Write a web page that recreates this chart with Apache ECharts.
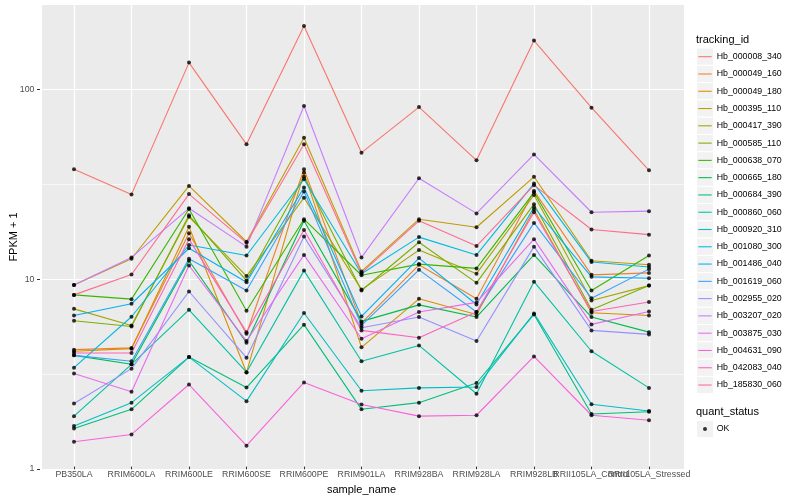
<!DOCTYPE html>
<html>
<head>
<meta charset="utf-8">
<script src="https://cdn.jsdelivr.net/npm/echarts@6/dist/echarts.min.js"></script>
<style>html,body{margin:0;padding:0;background:#fff}#c{width:800px;height:500px}</style>
</head>
<body>
<div id="c"></div>
<script>
const categories = ['PB350LA','RRIM600LA','RRIM600LE','RRIM600SE','RRIM600PE','RRIM901LA','RRIM928BA','RRIM928LA','RRIM928LB','RRII105LA_Control','RRII105LA_Stressed'];
const trackingIds = ['Hb_000008_340','Hb_000049_160','Hb_000049_180','Hb_000395_110','Hb_000417_390','Hb_000585_110','Hb_000638_070','Hb_000665_180','Hb_000684_390','Hb_000860_060','Hb_000920_310','Hb_001080_300','Hb_001486_040','Hb_001619_060','Hb_002955_020','Hb_003207_020','Hb_003875_030','Hb_004631_090','Hb_042083_040','Hb_185830_060'];
const colors = ['#F8766D','#EA8331','#D89000','#C09B00','#A3A500','#7CAE00','#39B600','#00BB4E','#00BF7D','#00C1A3','#00BFC4','#00BAE0','#00B0F6','#35A2FF','#9590FF','#C77CFF','#E76BF3','#FA62DB','#FF62BC','#FF6C91'];
const yTickValues = [1, 10, 100];
const yMinorValues = [3.1623, 31.623];

const hb_000008_340 = [37.5, 27.6, 137.6, 50.8, 215, 45.9, 80, 41.8, 180, 79.4, 37];
const hb_000049_160 = [4.16, 4.25, 17.2, 5.05, 37.5, 5.75, 11.7, 7.73, 28.8, 10.35, 10.6];
const hb_000049_180 = [4.08, 4.21, 18.6, 3.15, 36.0, 4.28, 7.73, 6.39, 22.9, 6.52, 6.31];
const hb_000395_110 = [9.16, 12.6, 30.6, 15.5, 55, 10.8, 20.4, 18.5, 34.2, 12.3, 11.7];
const hb_000417_390 = [6.84, 5.59, 21.0, 10.2, 26.5, 8.65, 14.0, 10.5, 27.4, 7.57, 9.08];
const hb_000585_110 = [5.92, 5.52, 21.4, 9.66, 34.2, 8.55, 15.4, 9.39, 24.5, 6.76, 9.08];
const hb_000638_070 = [8.11, 7.70, 23.1, 6.68, 20.4, 10.3, 11.8, 11.2, 28.3, 8.55, 13.1];
const hb_000665_180 = [3.88, 3.48, 12.3, 4.53, 20.0, 5.87, 7.18, 6.19, 13.2, 6.19, 5.15];
const hb_000684_390 = [1.59, 2.01, 3.80, 2.62, 5.64, 2.01, 2.18, 2.77, 6.39, 1.90, 1.95];
const hb_000860_060 = [1.85, 3.48, 6.76, 3.16, 10.9, 3.61, 4.38, 2.43, 9.53, 4.08, 2.61];
const hb_000920_310 = [1.64, 2.18, 3.80, 2.22, 6.5, 2.52, 2.61, 2.64, 6.47, 2.14, 1.97];
const hb_001080_300 = [3.34, 6.21, 14.9, 13.1, 33.2, 10.5, 16.4, 13.2, 31.5, 12.1, 11.4];
const hb_001486_040 = [6.31, 7.28, 14.3, 9.46, 30.0, 6.24, 12.7, 7.21, 23.6, 10.1, 9.94];
const hb_001619_060 = [3.88, 3.61, 12.6, 8.55, 28.6, 5.59, 11.0, 6.58, 19.5, 7.79, 11.1];
const hb_002955_020 = [2.16, 3.30, 8.45, 3.77, 16.5, 5.43, 6.19, 4.62, 14.6, 5.26, 5.01];
const hb_003207_020 = [9.16, 12.8, 23.3, 14.6, 81, 12.8, 33.6, 21.9, 44.9, 22.2, 22.5];
const hb_003875_030 = [3.11, 2.49, 11.6, 4.62, 13.2, 4.75, 6.58, 7.4, 16.0, 5.66, 6.62];
const hb_004631_090 = [1.355, 1.48, 2.72, 1.29, 2.79, 2.13, 1.85, 1.87, 3.83, 1.87, 1.76];
const hb_042083_040 = [3.99, 3.99, 16.0, 5.15, 17.9, 5.26, 4.81, 6.58, 22.2, 6.62, 7.43];
const hb_185830_060 = [8.11, 10.4, 27.7, 15.3, 50.8, 10.6, 20.0, 14.7, 30.9, 18.0, 16.9];

const seriesValues = [hb_000008_340, hb_000049_160, hb_000049_180, hb_000395_110, hb_000417_390, hb_000585_110, hb_000638_070, hb_000665_180, hb_000684_390, hb_000860_060, hb_000920_310, hb_001080_300, hb_001486_040, hb_001619_060, hb_002955_020, hb_003207_020, hb_003875_030, hb_004631_090, hb_042083_040, hb_185830_060];

const FONT = '"Liberation Sans", Arial, Helvetica, sans-serif';
// layout constants (pixels)
const PANEL = {left: 40, top: 5, width: 644, height: 464};
const LOGSPAN = 2.4435;
const yMax = Math.pow(10, LOGSPAN);
const decadePx = PANEL.height / LOGSPAN;
const KEY = 17.28;
const legendTop = 48.06;
const legend2Top = 420.36;
const keyLeft = 696.4;
const LINE_ICON = 'path://M0,0L20,0L20,1.6L0,1.6Z';

const lineSeries = trackingIds.map((id, i) => ({
  name: id, type: 'line', xAxisIndex: 1, yAxisIndex: 1,
  data: seriesValues[i], symbol: 'none', clip: false,
  lineStyle: {color: colors[i], width: 1.1}, itemStyle: {color: colors[i]},
  z: 2, silent: true
}));
const points = [];
seriesValues.forEach(arr => arr.forEach((v, j) => points.push([j, v])));

const keyRects = [];
for (let i = 0; i < trackingIds.length; i++) {
  keyRects.push({type: 'rect', shape: {x: keyLeft, y: legendTop + KEY * i, width: KEY, height: KEY},
    style: {fill: '#F2F2F2', stroke: '#FFFFFF', lineWidth: 1}, z: -5});
}
keyRects.push({type: 'rect', shape: {x: keyLeft, y: legend2Top, width: KEY, height: KEY},
  style: {fill: '#F2F2F2', stroke: '#FFFFFF', lineWidth: 1}, z: -5});

const chart = echarts.init(document.getElementById('c'), null, {renderer: 'canvas'});
chart.setOption({
  animation: false,
  backgroundColor: '#FFFFFF',
  textStyle: {fontFamily: FONT},
  title: [
    {text: 'tracking_id', left: 696, top: 34.5, padding: 0, textStyle: {fontSize: 11, fontWeight: 'normal', color: '#000', fontFamily: FONT}},
    {text: 'quant_status', left: 696, top: 406, padding: 0, textStyle: {fontSize: 11, fontWeight: 'normal', color: '#000', fontFamily: FONT}}
  ],
  graphic: keyRects,
  grid: [
    {left: PANEL.left, top: PANEL.top, width: PANEL.width, height: PANEL.height, show: true, backgroundColor: '#EBEBEB', borderWidth: 0},
    {left: 74, top: PANEL.top, width: 575, height: PANEL.height},
    {left: PANEL.left, top: PANEL.top + PANEL.height - 2 * decadePx, width: PANEL.width, height: 2 * decadePx}
  ],
  xAxis: [
    {gridIndex: 0, type: 'value', min: 0, max: 1, show: false},
    {gridIndex: 1, type: 'category', data: categories, boundaryGap: false,
      axisLine: {show: false},
      axisTick: {show: true, length: 2.7, lineStyle: {color: '#333333', width: 1}},
      axisLabel: {interval: 0, margin: 3.5, color: '#4D4D4D', fontSize: 8.8, fontFamily: FONT},
      splitLine: {show: true, interval: 0, lineStyle: {color: '#FFFFFF', width: 1.2}},
      name: 'sample_name', nameLocation: 'middle', nameGap: 13.5,
      nameTextStyle: {fontSize: 11, color: '#000', fontFamily: FONT}},
    {gridIndex: 2, type: 'value', min: 0, max: 1, show: false}
  ],
  yAxis: [
    {gridIndex: 0, type: 'value', min: 0, max: 1,
      axisLine: {show: false}, axisTick: {show: false}, axisLabel: {show: false}, splitLine: {show: false},
      name: 'FPKM + 1', nameLocation: 'middle', nameGap: 23,
      nameTextStyle: {fontSize: 11, color: '#000', fontFamily: FONT}},
    {gridIndex: 1, type: 'log', min: 1, max: yMax, show: false},
    {gridIndex: 2, type: 'log', min: yTickValues[0], max: yTickValues[yTickValues.length - 1],
      axisLine: {show: false},
      axisTick: {show: true, length: 3, lineStyle: {color: '#333333', width: 1}},
      axisLabel: {margin: 5.5, color: '#4D4D4D', fontSize: 8.8, fontFamily: FONT,
        formatter: v => String(Math.round(v))},
      splitLine: {show: true, lineStyle: {color: '#FFFFFF', width: 1.2}}}
  ],
  legend: [
    {data: trackingIds.map((id, i) => ({name: id, icon: LINE_ICON, itemStyle: {color: colors[i], borderWidth: 0}})),
      orient: 'vertical', left: 698.3, top: legendTop, padding: 0,
      itemWidth: 13.4, itemHeight: KEY, itemGap: 0, selectedMode: false, symbolKeepAspect: true,
      textStyle: {fontSize: 8.8, color: '#000', fontFamily: FONT, lineHeight: KEY}},
    {data: [{name: 'OK', icon: 'circle', itemStyle: {color: '#000'}}],
      orient: 'vertical', left: 703, top: legend2Top, padding: 0,
      itemWidth: 4, itemHeight: 4, itemGap: 0, selectedMode: false,
      textStyle: {fontSize: 8.8, color: '#000', fontFamily: FONT, lineHeight: KEY, padding: [0, 0, 0, 4.7]}}
  ],
  series: [
    {name: 'minor', type: 'line', xAxisIndex: 2, yAxisIndex: 2, data: [], silent: true, z: 1,
      markLine: {silent: true, symbol: ['none', 'none'], label: {show: false}, z: 1,
        lineStyle: {color: '#FFFFFF', width: 0.6, type: 'solid'},
        data: yMinorValues.map(v => ({yAxis: v}))}},
    ...lineSeries,
    {name: 'OK', type: 'scatter', xAxisIndex: 1, yAxisIndex: 1, data: points,
      symbol: 'circle', symbolSize: 4, itemStyle: {color: '#000'}, clip: false, z: 3, silent: true}
  ]
});
</script>
</body>
</html>
